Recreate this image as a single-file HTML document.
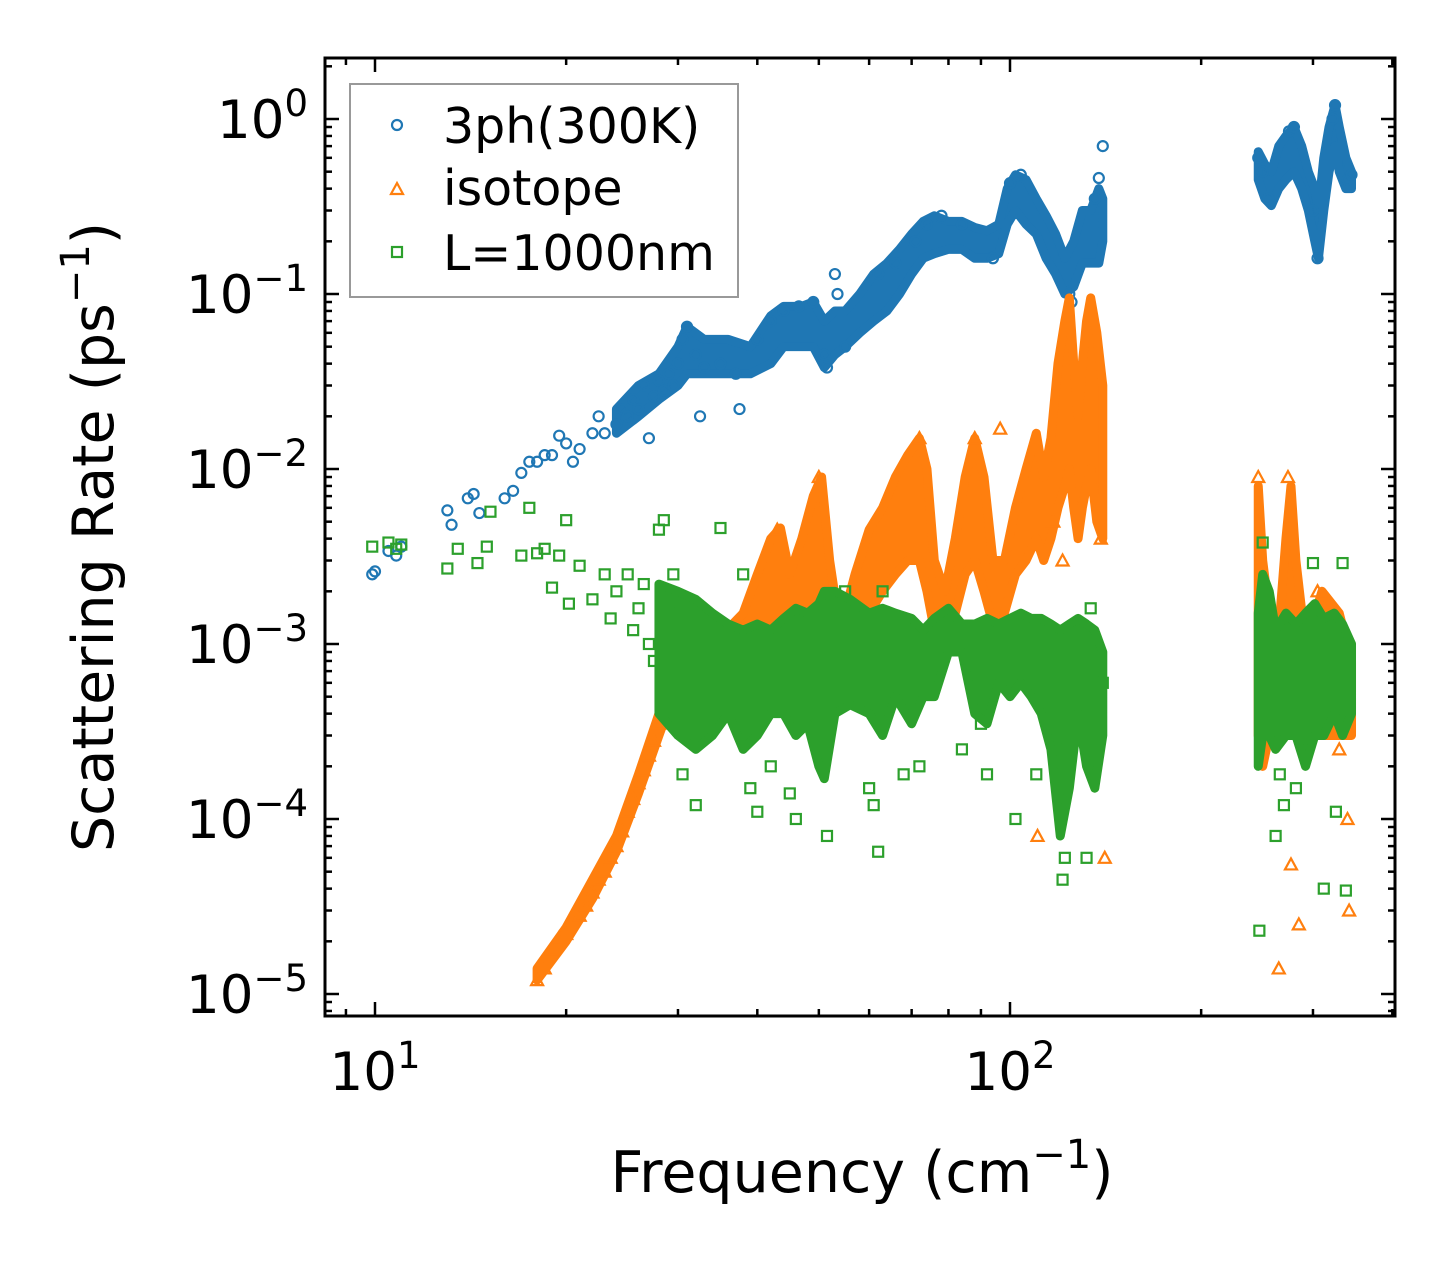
<!DOCTYPE html>
<html><head><meta charset="utf-8"><style>
html,body{margin:0;padding:0;background:#fff;}
svg{display:block;font-family:"DejaVu Sans","Liberation Sans",sans-serif;}
</style></head><body>
<svg id="chart" width="1455" height="1265" viewBox="0 0 1455 1265" xmlns="http://www.w3.org/2000/svg">
<g id="marks"></g>
<g id="axes"></g>
<text x="862" y="1192" font-size="57" text-anchor="middle">Frequency (cm<tspan dy="-24" font-size="40">−1</tspan><tspan dy="24">)</tspan></text>
<text transform="translate(113,537) rotate(-90)" font-size="57" text-anchor="middle">Scattering Rate (ps<tspan dy="-24" font-size="40">−1</tspan><tspan dy="24">)</tspan></text>
<g>
<rect x="350" y="84" width="388" height="213" fill="#fff" stroke="#999" stroke-width="2"/>
<circle cx="397" cy="125" r="5" fill="none" stroke="#1f77b4" stroke-width="2.2"/>
<text x="443" y="143" font-size="49">3ph(300K)</text>
<polygon points="397,183 403,194 391,194" fill="none" stroke="#ff7f0e" stroke-width="2.2"/>
<text x="443" y="205" font-size="49">isotope</text>
<rect x="392" y="247" width="10" height="10" fill="none" stroke="#2ca02c" stroke-width="2.2"/>
<text x="443" y="270" font-size="49">L=1000nm</text>
</g>
</svg>
<script>
const xTicks=[10,100];
const xTickLabels=["1","2"];
const yTicks=[1,0.1,0.01,0.001,0.0001,0.00001];
const yTickLabels=["0","−1","−2","−3","−4","−5"];
// dense-cloud envelopes: [freq, low, high]
const ph3Band=[[24,1.6e-2,2.2e-2],[26,2e-2,3e-2],[28,2.5e-2,3.5e-2],[30,3e-2,5e-2],[31,3.5e-2,6.5e-2],[33,3.5e-2,5.5e-2],[36,3.5e-2,5.5e-2],[39,3.5e-2,5e-2],[42,4e-2,7.5e-2],[44,5e-2,8.5e-2],[47,5e-2,8.5e-2],[49,5e-2,9e-2],[51,3.8e-2,7e-2],[53,4.5e-2,8e-2],[55,5e-2,8e-2],[58,6e-2,1e-1],[61,7e-2,1.3e-1],[64,8e-2,1.5e-1],[67,1e-1,1.8e-1],[70,1.3e-1,2.2e-1],[73,1.6e-1,2.6e-1],[76,1.7e-1,2.8e-1],[80,1.8e-1,2.6e-1],[84,1.8e-1,2.6e-1],[88,1.6e-1,2.4e-1],[92,1.6e-1,2.3e-1],[96,1.7e-1,2.5e-1],[99,2.5e-1,4e-1],[102,3e-1,4.8e-1],[106,2.5e-1,4.5e-1],[110,2.2e-1,3.5e-1],[114,1.6e-1,2.8e-1],[118,1.3e-1,2.2e-1],[122,1e-1,1.6e-1],[126,1.1e-1,2e-1],[130,1.5e-1,3e-1],[134,1.5e-1,3e-1],[138,1.5e-1,4e-1],[140,2e-1,3.5e-1]];
const ph3Band2=[[246,4.5e-1,6.5e-1],[252,3.5e-1,5.5e-1],[258,3.2e-1,5e-1],[265,4e-1,7e-1],[272,4.5e-1,8e-1],[280,5e-1,9e-1],[288,4e-1,7e-1],[295,3e-1,5e-1],[302,2e-1,4e-1],[306,1.6e-1,3e-1],[312,3e-1,6e-1],[318,5e-1,9e-1],[325,7e-1,1.2],[330,5e-1,9e-1],[338,4e-1,6e-1],[345,4e-1,5e-1]];
const isoBand=[[18,1.2e-5,1.4e-5],[20,2e-5,2.4e-5],[22,3.5e-5,4.5e-5],[24,6.5e-5,8e-5],[26,1.4e-4,1.8e-4],[28,3e-4,4e-4],[30,6e-4,8e-4],[32,8e-4,1.2e-3],[35,8e-4,1.1e-3],[38,8e-4,1.5e-3],[40,9e-4,2.5e-3],[42,1e-3,4e-3],[43.5,1.2e-3,4.6e-3],[45,1e-3,2.5e-3],[47,1e-3,4e-3],[49,1.2e-3,7e-3],[50.5,1.3e-3,9e-3],[52,1e-3,3e-3],[54,7e-4,1.2e-3],[57,1e-3,2.5e-3],[60,1.5e-3,4.5e-3],[63,2e-3,6e-3],[66,2.5e-3,9e-3],[69,3e-3,1.2e-2],[72,3e-3,1.5e-2],[74,2e-3,1e-2],[76,1.2e-3,3e-3],[79,1.3e-3,2e-3],[82,1.5e-3,4e-3],[85,2.5e-3,9e-3],[88,3e-3,1.5e-2],[91,2e-3,9e-3],[94,1.3e-3,3e-3],[98,1.5e-3,3e-3],[102,2.5e-3,6e-3],[106,3e-3,1.0e-2],[110,4e-3,1.6e-2],[113,3e-3,9e-3],[116,4e-3,1.5e-2],[119,6e-3,4e-2],[122,8e-3,7e-2],[124,1e-2,9.5e-2],[126,6e-3,4e-2],[128,4e-3,2e-2],[130,6e-3,4e-2],[132,8e-3,7e-2],[134,1e-2,9.5e-2],[137,5e-3,6e-2],[140,4e-3,3e-2]];
const isoBand2=[[246,3e-4,8e-3],[250,2e-4,3e-3],[256,3e-4,1.5e-3],[264,3e-4,1e-3],[272,5e-4,4e-3],[277,5e-4,8e-3],[282,4e-4,3e-3],[292,3e-4,1e-3],[310,3e-4,2e-3],[330,3e-4,1.5e-3],[345,3e-4,8e-4]];
const bndBand=[[28,4e-4,2.2e-3],[30,3e-4,2.0e-3],[32,2.5e-4,1.8e-3],[34,3e-4,1.5e-3],[36,4e-4,1.3e-3],[38,2.5e-4,1.2e-3],[40,3e-4,1.3e-3],[42,4e-4,1.2e-3],[44,4e-4,1.4e-3],[46,3e-4,1.6e-3],[48,3.5e-4,1.5e-3],[50,2e-4,1.7e-3],[51,1.7e-4,2e-3],[53,4e-4,2e-3],[56,4.5e-4,1.8e-3],[60,4e-4,1.5e-3],[63,3e-4,1.6e-3],[66,5e-4,1.5e-3],[70,3.5e-4,1.4e-3],[73,5e-4,1.2e-3],[76,5e-4,1.4e-3],[80,9e-4,1.6e-3],[84,9e-4,1.3e-3],[88,4e-4,1.3e-3],[92,3.5e-4,1.4e-3],[96,6e-4,1.3e-3],[100,5e-4,1.4e-3],[104,6e-4,1.5e-3],[108,5e-4,1.4e-3],[112,4e-4,1.4e-3],[116,2.5e-4,1.3e-3],[120,8e-5,1.2e-3],[124,1.5e-4,1.3e-3],[128,4e-4,1.4e-3],[132,2e-4,1.3e-3],[136,1.5e-4,1.2e-3],[140,3e-4,9e-4]];
const bndBand2=[[246,2e-4,1.5e-3],[250,3e-4,2.5e-3],[256,3e-4,2e-3],[262,2.5e-4,1.2e-3],[272,3e-4,1.5e-3],[282,3e-4,1.3e-3],[292,2e-4,1.5e-3],[302,3e-4,1.7e-3],[312,3e-4,1.4e-3],[324,4e-4,1.5e-3],[334,3e-4,1.3e-3],[345,4e-4,1e-3]];
// individual scattered points
const ph3=[[9.9,2.5e-3],[10,2.6e-3],[10.5,3.4e-3],[10.8,3.2e-3],[11,3.6e-3],[13,5.8e-3],[13.2,4.8e-3],[14,6.8e-3],[14.3,7.2e-3],[14.6,5.6e-3],[16,6.8e-3],[16.5,7.5e-3],[17,9.5e-3],[17.5,1.1e-2],[18,1.1e-2],[18.5,1.2e-2],[19,1.2e-2],[19.5,1.55e-2],[20,1.4e-2],[20.5,1.1e-2],[21,1.3e-2],[22,1.6e-2],[22.5,2.0e-2],[23,1.6e-2],[24,1.8e-2],[24.5,2.2e-2],[25,2.0e-2],[25.5,2.5e-2],[26,2.2e-2],[26.5,3.0e-2],[27,1.5e-2],[27.5,2.6e-2],[28,3.2e-2],[28.5,2.8e-2],[29,3.5e-2],[29.5,3.0e-2],[30,4.0e-2],[30.5,5.5e-2],[31,6.5e-2],[32,4.5e-2],[32.5,2.0e-2],[33,3.8e-2],[35,4.0e-2],[37,3.5e-2],[37.5,2.2e-2],[40,5.5e-2],[42,7e-2],[44,8e-2],[46.5,8.5e-2],[49,9e-2],[51,4.5e-2],[51.5,3.8e-2],[53,1.3e-1],[53.5,1.0e-1],[55,5e-2],[62,1.3e-1],[66,1.5e-1],[71,2.0e-1],[74,2.5e-1],[78,2.8e-1],[84,2.5e-1],[94,1.6e-1],[100,4.3e-1],[104,4.8e-1],[124,1.0e-1],[125,9e-2],[136,3.5e-1],[138,4.6e-1],[140,7e-1],[246,6e-1],[250,5e-1],[255,3.5e-1],[275,8.5e-1],[280,9e-1],[300,3e-1],[305,1.6e-1],[322,1.0],[325,1.2],[340,4.5e-1],[345,4.8e-1]];
const iso=[[18,1.2e-5],[18.5,1.4e-5],[19,1.8e-5],[19.5,2.1e-5],[20,2.2e-5],[21,2.8e-5],[21.5,3.2e-5],[22,3.8e-5],[22.5,4.5e-5],[23,5e-5],[23.5,6e-5],[24,7e-5],[24.5,8.5e-5],[25,1.1e-4],[25.5,1.3e-4],[26,1.6e-4],[26.5,1.9e-4],[27,2.3e-4],[27.5,2.8e-4],[28,3.5e-4],[28.5,4.2e-4],[29,5.5e-4],[29.5,6e-4],[30,7e-4],[43,4.5e-3],[50,9e-3],[72,1.5e-2],[88,1.5e-2],[96.5,1.7e-2],[110.5,8e-5],[117,5e-3],[121,3e-3],[137,1e-3],[139,4e-3],[141,6e-5],[246,9e-3],[265,1.4e-5],[274,9e-3],[277,5.5e-5],[285,2.5e-5],[305,2e-3],[320,5e-4],[330,2.5e-4],[340,1e-4],[342,3e-5]];
const bnd=[[9.9,3.6e-3],[10.5,3.8e-3],[10.8,3.5e-3],[11,3.7e-3],[13,2.7e-3],[13.5,3.5e-3],[14.5,2.9e-3],[15,3.6e-3],[15.2,5.7e-3],[17,3.2e-3],[17.5,6e-3],[18,3.3e-3],[18.5,3.5e-3],[19,2.1e-3],[19.5,3.2e-3],[20,5.1e-3],[20.2,1.7e-3],[21,2.8e-3],[22,1.8e-3],[23,2.5e-3],[23.5,1.4e-3],[24,2.0e-3],[25,2.5e-3],[25.5,1.2e-3],[26,1.6e-3],[26.5,2.2e-3],[27,1.0e-3],[27.5,8e-4],[28,4.5e-3],[28.5,5.1e-3],[29,1.5e-3],[29.5,2.5e-3],[30.5,1.8e-4],[32,1.2e-4],[35,4.6e-3],[38,2.5e-3],[39,1.5e-4],[40,1.1e-4],[42,2e-4],[45,1.4e-4],[46,1e-4],[51.5,8e-5],[55,2e-3],[60,1.5e-4],[61,1.2e-4],[62,6.5e-5],[63,2e-3],[68,1.8e-4],[72,2e-4],[84,2.5e-4],[90,3.5e-4],[92,1.8e-4],[102,1e-4],[110,1.8e-4],[118,2.5e-4],[121,4.5e-5],[122,6e-5],[132,6e-5],[134,1.6e-3],[140,6e-4],[247,2.3e-5],[250,3.8e-3],[262,8e-5],[266,1.8e-4],[270,1.2e-4],[282,1.5e-4],[300,2.9e-3],[312,4e-5],[326,1.1e-4],[338,3.9e-5],[334,2.9e-3]];

const X0=325,X1=1395,Y0=58,Y1=1016;
const xs=f=>375+635*(Math.log10(f)-1);
const ys=v=>119-175*Math.log10(v);
const NS="http://www.w3.org/2000/svg";
function mk(tag,attrs,parent){const e=document.createElementNS(NS,tag);for(const k in attrs)e.setAttribute(k,attrs[k]);parent.appendChild(e);return e;}
const marks=document.getElementById('marks');
const axes=document.getElementById('axes');
function band(arr,color,name){
 const up=arr.map(d=>xs(d[0])+','+ys(d[2]));
 const lo=arr.slice().reverse().map(d=>xs(d[0])+','+ys(d[1]));
 const e=mk('polygon',{points:up.concat(lo).join(' '),fill:color,stroke:color,'stroke-width':9,'stroke-linejoin':'round'},marks);
 
 
}
function circles(arr){arr.forEach(d=>{const x=xs(d[0]),y=ys(d[1]);
 const e=mk('circle',{cx:x,cy:y,r:5,fill:'none',stroke:'#1f77b4','stroke-width':2.2},marks);
 
 });}
function tris(arr){arr.forEach(d=>{const x=xs(d[0]),y=ys(d[1]);
 const e=mk('polygon',{points:`${x},${y-6} ${x+6},${y+5} ${x-6},${y+5}`,fill:'none',stroke:'#ff7f0e','stroke-width':2.2},marks);
 
 });}
function squares(arr){arr.forEach(d=>{const x=xs(d[0]),y=ys(d[1]);
 const e=mk('rect',{x:x-5,y:y-5,width:10,height:10,fill:'none',stroke:'#2ca02c','stroke-width':2.2},marks);
 
 });}
band(ph3Band,'#1f77b4','3ph-dense-cloud');
band(ph3Band2,'#1f77b4','3ph-dense-cloud-high');
circles(ph3);
band(isoBand,'#ff7f0e','isotope-dense-cloud');
band(isoBand2,'#ff7f0e','isotope-dense-cloud-high');
tris(iso);
band(bndBand,'#2ca02c','boundary-dense-cloud');
band(bndBand2,'#2ca02c','boundary-dense-cloud-high');
squares(bnd);
const fr=mk('rect',{x:X0,y:Y0,width:X1-X0,height:Y1-Y0,fill:'none',stroke:'#000','stroke-width':3},axes);


function tick(x1,y1,x2,y2){const t=mk('line',{x1,y1,x2,y2,stroke:'#000','stroke-width':2.5},axes);
 
 }
for(let dec=1;dec<=100;dec*=10){for(let m=1;m<10;m++){const f=dec*m;const x=xs(f);if(x<X0||x>X1)continue;const L=m==1?14:7;tick(x,Y1,x,Y1-L);tick(x,Y0,x,Y0+L);}}
xTicks.forEach((f,i)=>{const t=mk('text',{x:xs(f),y:1090,'font-size':53,'text-anchor':'middle'},axes);
 
 
 t.innerHTML=`10<tspan dy="-22" font-size="37">${xTickLabels[i]}</tspan>`;});
for(let e=-6;e<=0;e++){for(let m=1;m<10;m++){const v=m*Math.pow(10,e);const y=ys(v);if(y<Y0||y>Y1)continue;const L=m==1?14:7;tick(X0,y,X0+L,y);tick(X1,y,X1-L,y);}}
yTicks.forEach((v,i)=>{const t=mk('text',{x:308,y:ys(v)+19,'font-size':53,'text-anchor':'end'},axes);
 
 
 t.innerHTML=`10<tspan dy="-22" font-size="37">${yTickLabels[i]}</tspan>`;});
</script>
</body></html>
